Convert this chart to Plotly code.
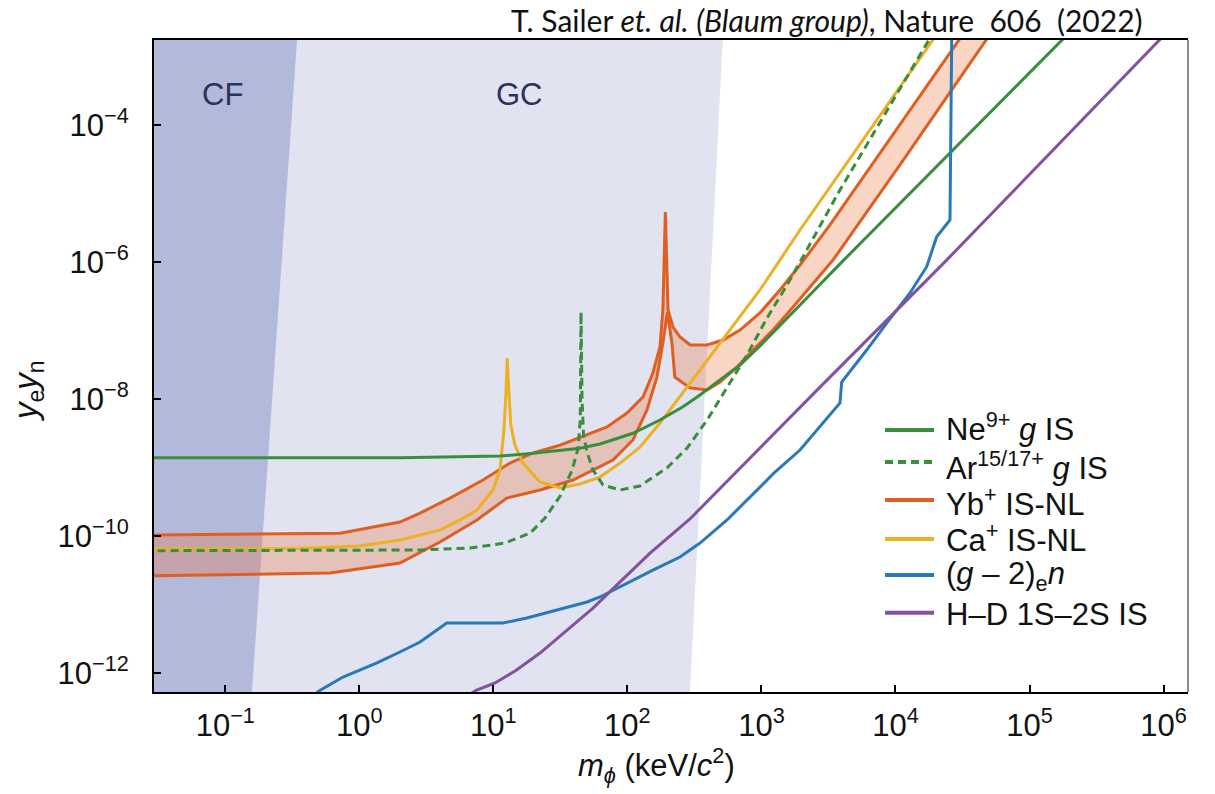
import numpy as np
import plotly.graph_objects as go

# ---------------- axis ticks ----------------
x_tick_exp = [-1, 0, 1, 2, 3, 4, 5, 6]
x_tick_labels = ["10<sup>−1</sup>", "10<sup>0</sup>", "10<sup>1</sup>", "10<sup>2</sup>",
                 "10<sup>3</sup>", "10<sup>4</sup>", "10<sup>5</sup>", "10<sup>6</sup>"]
y_tick_exp = [-12, -10, -8, -6, -4]
y_tick_labels = ["10<sup>−12</sup>", "10<sup>−10</sup>", "10<sup>−8</sup>",
                 "10<sup>−6</sup>", "10<sup>−4</sup>"]

# axis limits (log10 units)
x_range = [-1.5315, 6.1823]
y_range = [-12.272, -2.760]

# ---------------- excluded regions ----------------
# slanted right edges of the fifth-force (CF) and globular-cluster (GC) bounds,
# given at the bottom and top of the plotted coupling range
region_y = [10 ** y_range[0], 10 ** y_range[1]]
cf_edge_m = [0.158, 0.343]
gc_edge_m = [293.0, 514.0]
region_left_m = 0.01

# ---------------- bounds: m_phi (keV/c^2) vs y_e*y_n ----------------
ne_m = [0.02, 2.01, 11.2, 19.8, 44.3, 62.5, 110, 175, 260, 348, 491, 692, 975,
        1374, 1940, 4055, 25470, 174600, 282000]
ne_y = [1.40e-9, 1.40e-9, 1.48e-9, 1.62e-9, 1.92e-9, 2.22e-9, 3.18e-9, 4.96e-9,
        7.76e-9, 1.15e-8, 1.91e-8, 3.15e-8, 5.97e-8, 1.17e-7, 2.37e-7, 1.04e-6,
        3.90e-5, 1.74e-3, 4.46e-3]

ar_m = [0.02, 2.84, 6.70, 12.2, 18.8, 24.3, 31.5, 38.7, 42.9, 44.5, 45.1, 45.9,
        47.1, 50.0, 55.4, 65.8, 88.1, 124, 197, 279, 393, 554, 780, 1101, 1552,
        1940, 3855, 17200, 23400]
ar_y = [6.15e-11, 6.30e-11, 6.73e-11, 7.96e-11, 1.11e-10, 1.85e-10, 3.86e-10,
        9.25e-10, 1.94e-9, 4.96e-9, 1.87e-7, 9.72e-9, 3.00e-9, 1.69e-9, 9.25e-10,
        5.60e-10, 4.73e-10, 5.41e-10, 9.90e-10, 1.94e-9, 4.96e-9, 1.46e-8, 4.41e-8,
        1.53e-7, 4.63e-7, 1.00e-6, 1.13e-5, 1.57e-3, 4.03e-3]

yb_hi_m = [0.02, 0.718, 2.01, 2.84, 4.75, 8.37, 13.3, 19.8, 31.5, 50.0, 70.5, 99.3,
           131, 155, 175, 184, 192, 201, 219, 247, 294, 393, 517, 692, 975, 1374,
           1940, 3245, 7280, 12830, 28800, 39200]
yb_hi_y = [1.04e-10, 1.11e-10, 1.61e-10, 2.18e-10, 3.61e-10, 6.62e-10, 1.17e-9,
           1.64e-9, 2.14e-9, 3.00e-9, 3.93e-9, 6.28e-9, 1.08e-8, 2.41e-8, 5.77e-8,
           2.00e-7, 5.38e-6, 2.00e-7, 1.13e-7, 8.07e-8, 6.17e-8, 6.17e-8, 7.30e-8,
           1.02e-7, 1.81e-7, 3.92e-7, 9.06e-7, 3.48e-6, 3.41e-5, 1.66e-4, 1.63e-3,
           3.77e-3]

yb_lo_m = [0.02, 0.605, 2.01, 4.00, 7.55, 12.6, 22.3, 39.3, 78.0, 110, 140, 166,
           184, 199, 215, 226, 293, 393, 491, 658, 865, 1219, 1722, 2427, 3420,
           10800, 46600, 62400]
yb_lo_y = [2.63e-11, 2.91e-11, 4.07e-11, 8.24e-11, 1.73e-10, 3.61e-10, 4.73e-10,
           6.62e-10, 1.29e-9, 2.54e-9, 6.95e-9, 2.10e-8, 6.59e-8, 1.87e-7, 6.59e-8,
           2.10e-8, 1.46e-8, 1.36e-8, 1.78e-8, 2.94e-8, 5.21e-8, 1.02e-7, 2.21e-7,
           4.95e-7, 1.07e-6, 2.61e-5, 1.63e-3, 3.77e-3]

ca_m = [0.02, 0.361, 1.01, 2.01, 4.00, 5.64, 7.55, 9.94, 11.2, 12.0, 12.4, 12.7,
        13.1, 13.5, 14.5, 16.6, 22.3, 31.5, 44.3, 62.5, 88.3, 124, 175, 247, 348,
        491, 692, 975, 1374, 1940, 18600, 25500]
ca_y = [6.52e-11, 6.62e-11, 7.21e-11, 8.81e-11, 1.23e-10, 1.73e-10, 2.42e-10,
        4.73e-10, 9.25e-10, 3.55e-9, 1.15e-8, 3.98e-8, 1.15e-8, 4.20e-9, 2.14e-9,
        1.17e-9, 6.18e-10, 5.06e-10, 5.78e-10, 7.31e-10, 1.17e-9, 2.00e-9, 4.49e-9,
        1.08e-8, 2.66e-8, 6.59e-8, 1.58e-7, 3.92e-7, 1.07e-6, 2.94e-6, 1.64e-3,
        4.03e-3]

g2_m = [0.429, 0.500, 0.756, 1.355, 2.01, 2.84, 4.49, 11.8, 17.8, 29.8, 50.0, 62.5,
        99.3, 155, 247, 348, 554, 822, 1262, 1940, 3855, 3970, 6100, 8600, 12830,
        17100, 20300, 25500, 25950, 26400]
g2_y = [4.36e-13, 5.52e-13, 8.83e-13, 1.42e-12, 2.05e-12, 2.86e-12, 5.42e-12,
        5.42e-12, 6.41e-12, 8.39e-12, 1.10e-11, 1.30e-11, 2.08e-11, 3.21e-11,
        4.98e-11, 7.96e-11, 1.73e-10, 3.74e-10, 8.65e-10, 1.81e-9, 8.79e-9, 1.78e-8,
        5.21e-8, 1.29e-7, 3.54e-7, 8.57e-7, 2.34e-6, 4.11e-6, 4.32e-5, 4.77e-3]

hd_m = [6.70, 7.51, 10.3, 14.9, 22.3, 35.2, 55.4, 83.6, 147.5, 293, 2735, 24100,
        908000, 1.32e6]
hd_y = [4.99e-13, 5.71e-13, 7.23e-13, 1.12e-12, 1.98e-12, 4.29e-12, 8.97e-12,
        1.95e-11, 5.69e-11, 1.79e-10, 1.50e-8, 1.07e-6, 1.64e-3, 3.52e-3]

# ---------------- styles ----------------
GREEN = "#388e3c"
ORANGE = "#e05f20"
YELLOW = "#ecb123"
BLUE = "#2a79b7"
PURPLE = "#8251a0"
CF_FILL = "#b3b9da"
GC_FILL = "#e1e3f0"
BAND_FILL = "rgba(235,115,60,0.30)"
LW = 3
FONT = "Liberation Sans, Arial, Helvetica, sans-serif"

legend_entries = [
    ("Ne<sup>9+</sup> <i>g</i> IS", GREEN, "solid"),
    ("Ar<sup>15/17+</sup> <i>g</i> IS", GREEN, "8px,5px"),
    ("Yb<sup>+</sup> IS-NL", ORANGE, "solid"),
    ("Ca<sup>+</sup> IS-NL", YELLOW, "solid"),
    ("(<i>g</i> – 2)<sub>e</sub><i>n</i>", BLUE, "solid"),
    ("H–D 1S–2S IS", PURPLE, "solid"),
]
# legend row placement (paper fractions): sample lines and label centres
leg_line_y = [0.4018, 0.3528, 0.2945, 0.2347, 0.1794, 0.1216]
leg_text_y = [0.4057, 0.3466, 0.2910, 0.2362, 0.1772, 0.1184]
leg_x0, leg_x1, leg_tx = 0.7070, 0.7544, 0.765

fig = go.Figure()

# excluded regions
fig.add_trace(go.Scatter(
    x=[region_left_m, gc_edge_m[1], gc_edge_m[0], region_left_m],
    y=[region_y[1], region_y[1], region_y[0], region_y[0]],
    fill="toself", fillcolor=GC_FILL, mode="lines", line=dict(width=0),
    hoverinfo="skip", showlegend=False))
fig.add_trace(go.Scatter(
    x=[region_left_m, cf_edge_m[1], cf_edge_m[0], region_left_m],
    y=[region_y[1], region_y[1], region_y[0], region_y[0]],
    fill="toself", fillcolor=CF_FILL, mode="lines", line=dict(width=0),
    hoverinfo="skip", showlegend=False))

# Yb+ band between its two bounds
fig.add_trace(go.Scatter(
    x=yb_hi_m + yb_lo_m[::-1], y=yb_hi_y + yb_lo_y[::-1],
    fill="toself", fillcolor=BAND_FILL, mode="lines", line=dict(width=0),
    hoverinfo="skip", showlegend=False))


def add_line(mx, my, color, dash="solid"):
    fig.add_trace(go.Scatter(x=mx, y=my, mode="lines",
                             line=dict(color=color, width=LW, dash=dash),
                             showlegend=False))


add_line(yb_hi_m, yb_hi_y, ORANGE)
add_line(yb_lo_m, yb_lo_y, ORANGE)
add_line(ca_m, ca_y, YELLOW)
add_line(ar_m, ar_y, GREEN, "8px,5px")
add_line(ne_m, ne_y, GREEN)
add_line(g2_m, g2_y, BLUE)
add_line(hd_m, hd_y, PURPLE)

axis_common = dict(
    type="log", showgrid=False, zeroline=False, showline=True,
    linecolor="black", linewidth=2, ticks="inside", ticklen=7, tickwidth=2,
    tickcolor="black", tickfont=dict(family=FONT, size=31, color="#111111"),
)
fig.update_xaxes(range=x_range, mirror=True, tickmode="array",
                 tickvals=[10 ** e for e in x_tick_exp], ticktext=x_tick_labels,
                 ticklabelstandoff=5, **axis_common)
fig.update_yaxes(range=y_range, mirror=False, tickmode="array",
                 tickvals=[10 ** e for e in y_tick_exp], ticktext=y_tick_labels,
                 ticklabelstandoff=17, **axis_common)

annotations = [
    dict(text="T. Sailer <i>et. al.</i> <i>(Blaum group)</i>, Nature \u00a0606 \u00a0(2022)",
         xref="paper", yref="paper", x=0.958, y=1.031, xanchor="right", yanchor="middle",
         showarrow=False, font=dict(family="Lato, Carlito, sans-serif", size=30, color="#111111")),
    dict(text="CF", xref="x", yref="y", x=np.log10(0.0955), y=-3.562, showarrow=False,
         font=dict(family=FONT, size=31, color="#2b3358")),
    dict(text="GC", xref="x", yref="y", x=np.log10(15.8), y=-3.562, showarrow=False,
         font=dict(family=FONT, size=31, color="#2b3358")),
    dict(text="<i>m</i><sub><i>ϕ</i></sub> (keV/<i>c</i><sup>2</sup>)", xref="paper", yref="paper",
         x=0.486, y=-0.112, xanchor="center", yanchor="middle", showarrow=False,
         font=dict(family=FONT, size=31, color="#111111")),
    dict(text="<i>y</i><sub>e</sub><i>y</i><sub>n</sub>", xref="paper", yref="paper",
         x=-0.122, y=0.463, xanchor="center", yanchor="middle", textangle=-90,
         showarrow=False, font=dict(family=FONT, size=33, color="#111111")),
]

# legend, drawn as line samples with labels
shapes = [dict(type="line", xref="paper", yref="paper", x0=1, x1=1, y0=0, y1=1,
               line=dict(color="#8c8c8c", width=2))]
for (label, color, dash), ly, ty in zip(legend_entries, leg_line_y, leg_text_y):
    shapes.append(dict(type="line", xref="paper", yref="paper", x0=leg_x0, x1=leg_x1,
                       y0=ly, y1=ly, line=dict(color=color, width=LW + 1, dash=dash)))
    annotations.append(dict(text=label, xref="paper", yref="paper", x=leg_tx, y=ty,
                            xanchor="left", yanchor="middle", showarrow=False, borderpad=0,
                            font=dict(family=FONT, size=31, color="#111111")))

fig.update_layout(
    width=1215, height=794,
    margin=dict(l=154, r=27, t=40, b=102),
    paper_bgcolor="white", plot_bgcolor="white",
    showlegend=False,
    annotations=annotations, shapes=shapes,
)

fig.write_html("out.html")
